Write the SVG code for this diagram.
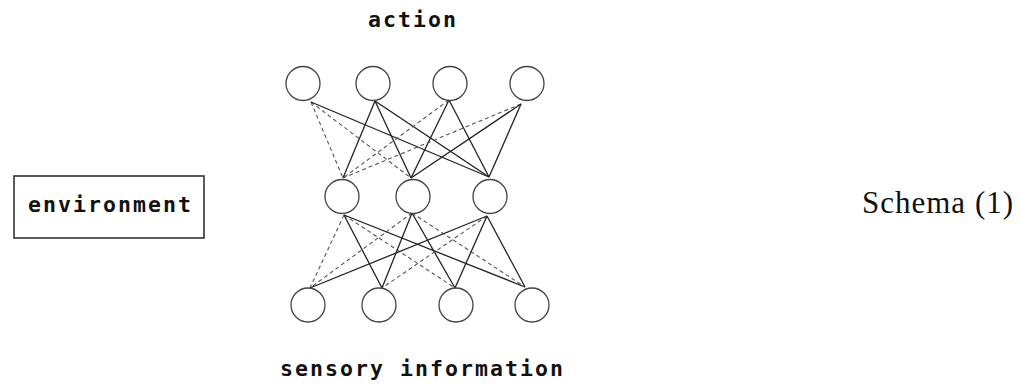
<svg xmlns="http://www.w3.org/2000/svg" width="1021" height="387" viewBox="0 0 1021 387">
  <style>
    .mono { font-family: "DejaVu Sans Mono", "Liberation Mono", monospace; font-size: 21.5px; font-weight: bold; letter-spacing: 2.05px; fill: #111; }
    .serif { font-family: "Liberation Serif", "Times New Roman", serif; font-size: 31px; letter-spacing: 1px; fill: #111; }
    .unit { fill: #fff; stroke: #444; stroke-width: 1.3; }
    .box { fill: #fff; stroke: #333; stroke-width: 1.6; }
    .w { stroke: #222; stroke-width: 1.3; fill: none; }
    .wf { stroke: #555; stroke-width: 1.1; fill: none; stroke-dasharray: 4 3; }
  </style>
  <rect width="1021" height="387" fill="#fff"/>

  <!-- weights: output layer to hidden layer, hidden layer to input layer -->
  <g id="connectors">
    <!-- top row to middle row -->
    <line class="wf" x1="311" y1="102" x2="343" y2="178"/>
    <line class="wf" x1="311" y1="102" x2="411" y2="178"/>
    <line class="w"  x1="311" y1="102" x2="489" y2="177"/>
    <line class="w"  x1="375" y1="101" x2="343" y2="178"/>
    <line class="w"  x1="375" y1="101" x2="411" y2="178"/>
    <line class="w"  x1="375" y1="101" x2="489" y2="177"/>
    <line class="wf" x1="449" y1="100" x2="343" y2="178"/>
    <line class="w"  x1="449" y1="100" x2="411" y2="178"/>
    <line class="w"  x1="449" y1="100" x2="489" y2="177"/>
    <line class="wf" x1="521" y1="104" x2="343" y2="178"/>
    <line class="w"  x1="521" y1="104" x2="411" y2="178"/>
    <line class="w"  x1="521" y1="104" x2="489" y2="177"/>
    <!-- middle row to bottom row -->
    <line class="wf" x1="344" y1="215" x2="310" y2="288"/>
    <line class="w"  x1="344" y1="215" x2="382" y2="288"/>
    <line class="wf" x1="344" y1="215" x2="455" y2="288"/>
    <line class="w"  x1="344" y1="215" x2="525" y2="287"/>
    <line class="wf" x1="412" y1="213" x2="310" y2="288"/>
    <line class="w"  x1="412" y1="213" x2="382" y2="288"/>
    <line class="w"  x1="412" y1="213" x2="455" y2="288"/>
    <line class="wf" x1="412" y1="213" x2="525" y2="287"/>
    <line class="w"  x1="487" y1="216" x2="310" y2="288"/>
    <line class="wf" x1="487" y1="216" x2="382" y2="288"/>
    <line class="w"  x1="487" y1="216" x2="455" y2="288"/>
    <line class="w"  x1="487" y1="216" x2="525" y2="287"/>
  </g>

  <!-- output layer -->
  <g id="out1"><circle class="unit" cx="303" cy="83.5" r="17"/></g>
  <g id="out2"><circle class="unit" cx="373" cy="83.5" r="17"/></g>
  <g id="out3"><circle class="unit" cx="450" cy="83.5" r="17"/></g>
  <g id="out4"><circle class="unit" cx="527" cy="83.5" r="17"/></g>

  <!-- hidden layer -->
  <g id="hid1"><circle class="unit" cx="342" cy="196.5" r="17"/></g>
  <g id="hid2"><circle class="unit" cx="413" cy="196.5" r="17"/></g>
  <g id="hid3"><circle class="unit" cx="490" cy="196.5" r="17"/></g>

  <!-- input layer -->
  <g id="in1"><circle class="unit" cx="308" cy="305" r="17"/></g>
  <g id="in2"><circle class="unit" cx="379" cy="305" r="17"/></g>
  <g id="in3"><circle class="unit" cx="456" cy="305" r="17"/></g>
  <g id="in4"><circle class="unit" cx="532" cy="305" r="17"/></g>

  <g id="action-label"><text class="mono" x="368" y="27">action</text></g>
  <g id="sensory-label"><text class="mono" x="280" y="376">sensory information</text></g>

  <g id="environment">
    <rect class="box" x="14" y="176" width="190" height="62"/>
    <text class="mono" x="28" y="212">environment</text>
  </g>

  <g id="caption"><text class="serif" x="862" y="213">Schema (1)</text></g>
</svg>
